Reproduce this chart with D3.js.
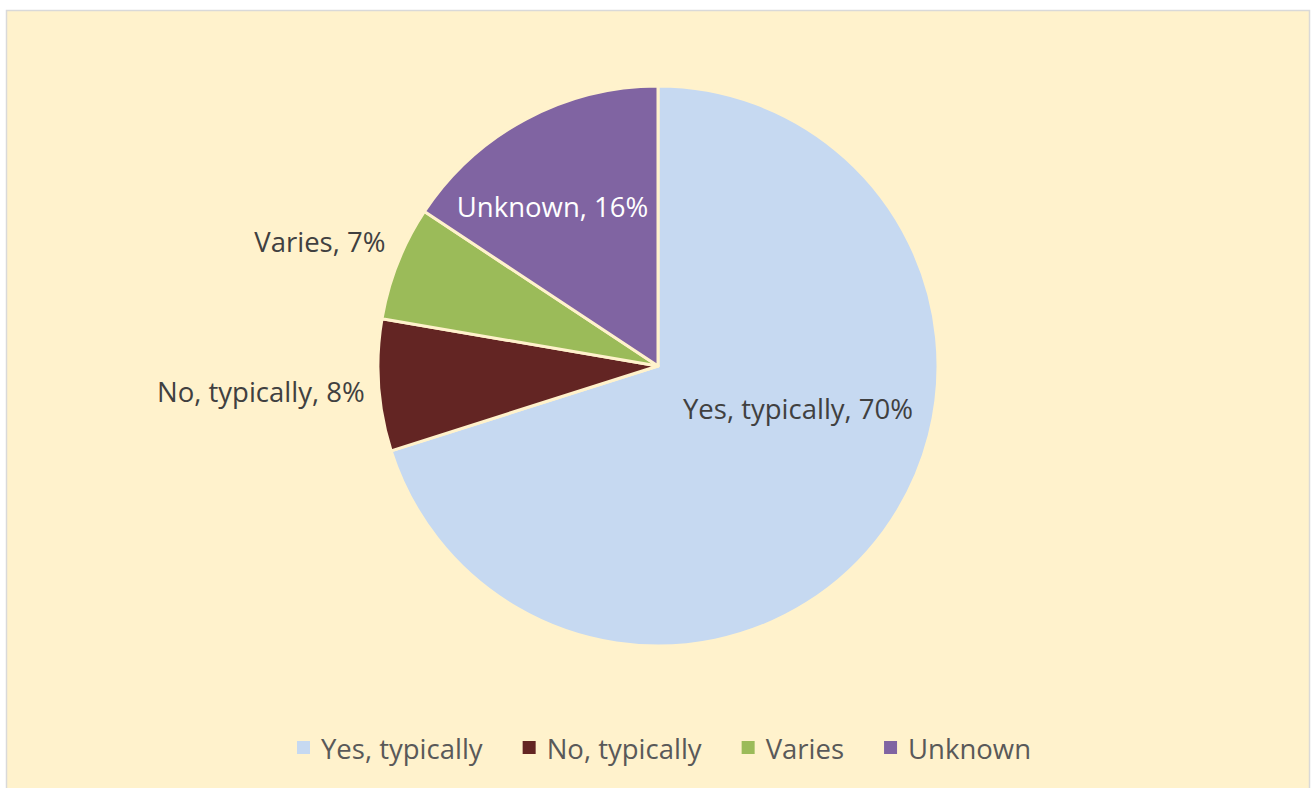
<!DOCTYPE html>
<head>
  <meta charset="UTF-8">
  <style>
    *{ margin: 0px; }
    body{ background-color: white; }
    svg{ font-family: "Open Sans", "Lato", sans-serif; }
  </style>
  <script src="https://d3js.org/d3.v7.min.js"></script>
</head>
<body>
  <svg id="chart" width="1311" height="788"></svg>
  <script>
    var categories = ["Yes, typically", "No, typically", "Varies", "Unknown"];
    var shares = [70.1, 7.6, 6.6, 15.7];
    var colors = ["#c6d9f1", "#632523", "#9bbb59", "#8064a2"];

    var svg = d3.select("#chart");
    var bg = "#fff2cc";
    var fontSize = 27.5;

    svg.append("rect")
      .attr("x", 6.5).attr("y", 10.5)
      .attr("width", 1303).attr("height", 800)
      .attr("fill", bg)
      .attr("stroke", "#d9d9d9")
      .attr("stroke-width", 1.5);

    var cx = 658, cy = 366, r = 280;
    var data = categories.map((c, i) => ({name: c, value: shares[i], color: colors[i]}));

    var pie = d3.pie().sort(null).value(d => d.value);
    var arc = d3.arc().innerRadius(0).outerRadius(r);
    var arcs = pie(data);

    var g = svg.append("g").attr("transform", "translate(" + cx + "," + cy + ")");
    g.selectAll("path")
      .data(arcs)
      .enter()
      .append("path")
      .attr("d", arc)
      .attr("fill", d => d.data.color)
      .attr("stroke", bg)
      .attr("stroke-width", 3)
      .attr("stroke-linejoin", "round");

    // label placement (Excel "best fit"): inside for big slices, outside for small ones
    var labelPos = [
      {k: 0.5, anchor: "middle", fill: "#404040", dx: 27, dy: -40},
      {k: 1.05, anchor: "end", fill: "#404040", dx: 0, dy: 5},
      {k: 1.07, anchor: "end", fill: "#404040", dx: 6, dy: -14},
      {k: 0.645, anchor: "middle", fill: "#ffffff", dx: -20, dy: 0}
    ];

    g.selectAll("text.lbl")
      .data(arcs)
      .enter()
      .append("text")
      .attr("class", "lbl")
      .attr("transform", (d, i) => {
        var lp = labelPos[i];
        var p = d3.arc().innerRadius(r * lp.k).outerRadius(r * lp.k).centroid(d);
        return "translate(" + (p[0] + lp.dx) + "," + (p[1] + lp.dy) + ")";
      })
      .attr("text-anchor", (d, i) => labelPos[i].anchor)
      .attr("dominant-baseline", "central")
      .attr("font-size", fontSize + "px")
      .attr("fill", (d, i) => labelPos[i].fill)
      .text(d => d.data.name + ", " + Math.round(d.data.value) + "%");

    // legend
    var legend = svg.append("g").attr("transform", "translate(0, 748)");
    var items = legend.selectAll("g")
      .data(data)
      .enter()
      .append("g");
    items.append("rect")
      .attr("y", -7).attr("width", 13).attr("height", 13)
      .attr("fill", d => d.color);
    items.append("text")
      .attr("x", 24)
      .attr("dominant-baseline", "central")
      .attr("font-size", fontSize + "px")
      .attr("fill", "#595959")
      .text(d => d.name);

    var x = 0, gap = 40, offs = [];
    items.each(function(){
      offs.push(x);
      x += 24 + d3.select(this).select("text").node().getComputedTextLength() + gap;
    });
    var total = x - gap, start = 664 - total / 2;
    items.attr("transform", (d, i) => "translate(" + (start + offs[i]) + ",0)");
  </script>
</body>
